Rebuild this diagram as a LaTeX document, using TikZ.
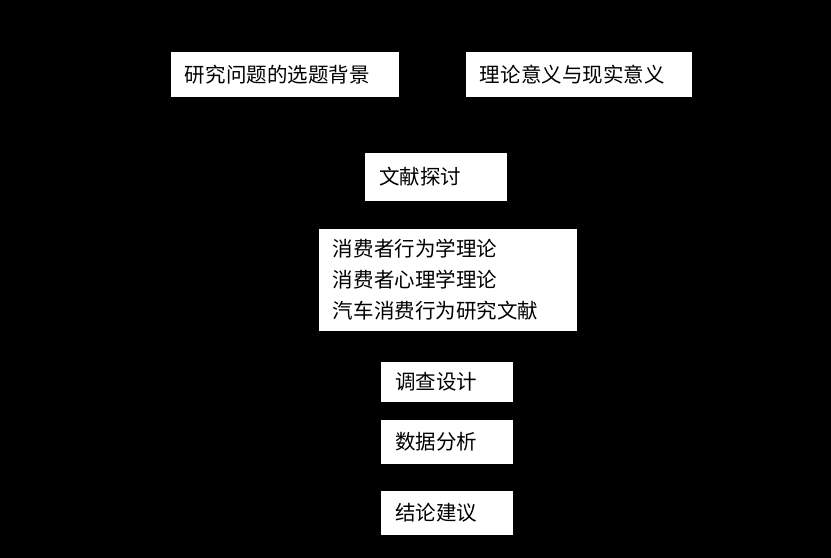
\documentclass[tikz,border=0pt]{standalone}
\usepackage{fontspec}
\newfontfamily\cjk{Noto Sans CJK SC}
\tikzset{
  stagebox/.style={draw=none, fill=white, rectangle, inner xsep=0.42cm, inner ysep=0pt,
    align=left, font=\cjk\fontsize{17.5}{26.4}\selectfont, text=black}
}
\begin{document}
\begin{tikzpicture}[x=0.03cm,y=-0.03cm]
    \fill[black] (0,0) rectangle (831,558);
    \useasboundingbox (0,0) rectangle (831,558);

    % top row
    \node[stagebox, minimum width=6.84cm, minimum height=1.35cm, text width=6.0cm] (background) at (285,74.5) {研究问题的选题背景};
    \node[stagebox, minimum width=6.78cm, minimum height=1.35cm, text width=5.94cm] (meaning) at (579,74.5) {理论意义与现实意义};

    % literature
    \node[stagebox, minimum width=4.26cm, minimum height=1.44cm, text width=3.42cm] (review) at (436,177) {文献探讨};
    \node[stagebox, minimum width=7.74cm, minimum height=3.06cm, text width=6.9cm] (theory) at (448,280)
      {消费者行为学理论\\消费者心理学理论\\汽车消费行为研究文献};

    % research steps
    \node[stagebox, minimum width=3.96cm, minimum height=1.2cm, text width=3.12cm] (design) at (447,382) {调查设计};
    \node[stagebox, minimum width=3.96cm, minimum height=1.32cm, text width=3.12cm] (analysis) at (447,442) {数据分析};
    \node[stagebox, minimum width=3.96cm, minimum height=1.32cm, text width=3.12cm] (result) at (447,513) {结论建议};
\end{tikzpicture}
\end{document}
